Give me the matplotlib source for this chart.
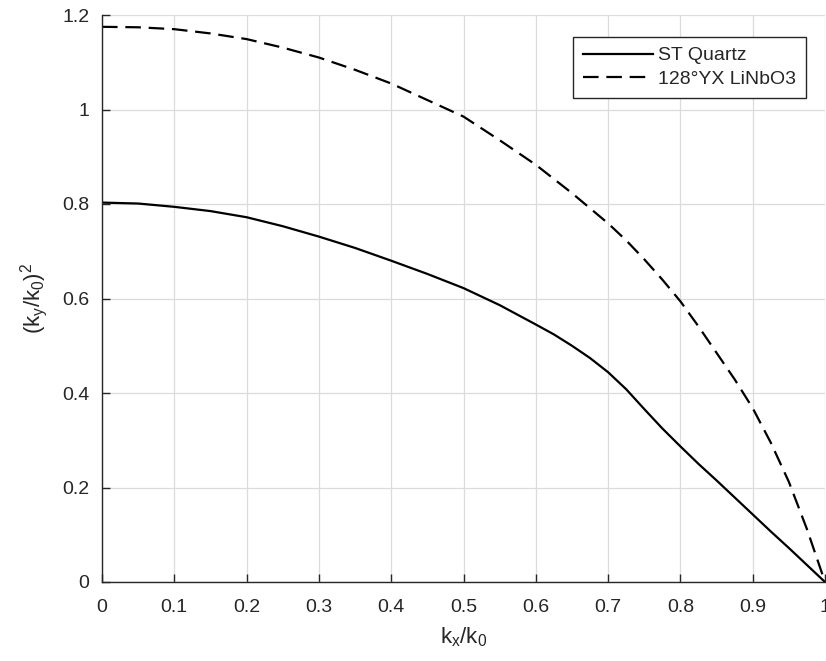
import numpy as np
import matplotlib
matplotlib.use('Agg')
import matplotlib.pyplot as plt

plt.rcParams['font.family'] = ['Liberation Sans', 'DejaVu Sans']
plt.rcParams['mathtext.fontset'] = 'custom'
plt.rcParams['mathtext.rm'] = 'Liberation Sans'
plt.rcParams['mathtext.default'] = 'rm'

# values
kx_quartz = [0.0, 0.05, 0.1, 0.15, 0.2, 0.25, 0.3, 0.35, 0.4, 0.45, 0.5,
             0.55, 0.6, 0.625, 0.65, 0.675, 0.7, 0.725, 0.75, 0.775, 0.8,
             0.825, 0.85, 0.875, 0.9, 0.925, 0.95, 0.975, 1.0]
ky2_quartz = [0.803, 0.801, 0.794, 0.785, 0.772, 0.753, 0.731, 0.707, 0.680, 0.652, 0.622,
              0.586, 0.545, 0.524, 0.500, 0.474, 0.444, 0.408, 0.366, 0.325, 0.287,
              0.250, 0.215, 0.179, 0.143, 0.107, 0.072, 0.036, 0.0]

kx_linbo3 = [0.0, 0.05, 0.1, 0.15, 0.2, 0.25, 0.3, 0.35, 0.4, 0.45, 0.5,
             0.55, 0.6, 0.65, 0.7, 0.725, 0.75, 0.775, 0.8, 0.825, 0.85,
             0.875, 0.9, 0.925, 0.95, 0.975, 1.0]
ky2_linbo3 = [1.175, 1.174, 1.170, 1.161, 1.149, 1.131, 1.110, 1.084, 1.055, 1.020, 0.985,
              0.935, 0.883, 0.823, 0.759, 0.723, 0.683, 0.640, 0.594, 0.541, 0.485,
              0.429, 0.368, 0.295, 0.212, 0.112, 0.0]

series_labels = ['ST Quartz', '128°YX LiNbO3']
xticks = [0, 0.1, 0.2, 0.3, 0.4, 0.5, 0.6, 0.7, 0.8, 0.9, 1.0]
xtick_labels = ['0', '0.1', '0.2', '0.3', '0.4', '0.5', '0.6', '0.7', '0.8', '0.9', '1']
yticks = [0, 0.2, 0.4, 0.6, 0.8, 1.0, 1.2]
ytick_labels = ['0', '0.2', '0.4', '0.6', '0.8', '1', '1.2']

axcol = '#262626'
fig = plt.figure(figsize=(8.26, 6.61), dpi=100)
ax = fig.add_axes([102/826, 1 - 582/661, 723/826, 567/661])

ax.plot(kx_quartz, ky2_quartz, '-', color='black', lw=1.6, label=series_labels[0])
ax.plot(kx_linbo3, ky2_linbo3, '--', color='black', lw=1.6, dashes=(7, 3.5),
        label=series_labels[1])

ax.set_xlim(0, 1)
ax.set_ylim(0, 1.2)
ax.set_xticks(xticks)
ax.set_xticklabels(xtick_labels)
ax.set_yticks(yticks)
ax.set_yticklabels(ytick_labels)
ax.tick_params(direction='in', length=6, width=1, colors=axcol, labelsize=14)
ax.tick_params(axis='x', pad=12)
ax.tick_params(axis='y', pad=9)

ax.grid(True, color='#dcdcdc', lw=0.9)
ax.set_axisbelow(True)
for side in ['top', 'right']:
    ax.spines[side].set_visible(False)
for side in ['left', 'bottom']:
    ax.spines[side].set_color(axcol)
    ax.spines[side].set_linewidth(1.0)

ax.set_xlabel(r'$\mathregular{k_x/k_0}$', fontsize=16, color=axcol, labelpad=7)
ax.set_ylabel(r'$\mathregular{(k_y/k_0)^2}$', fontsize=16, color=axcol, labelpad=9)

leg = ax.legend(loc='upper right', bbox_to_anchor=(0.974, 0.961), borderaxespad=0,
                fontsize=14, fancybox=False, framealpha=1, edgecolor=axcol,
                handlelength=3.6, handletextpad=0.3, labelspacing=0.3, borderpad=0.5)
leg.get_frame().set_linewidth(1.0)
for t in leg.get_texts():
    t.set_color(axcol)

fig.savefig('out.png', dpi=100)
